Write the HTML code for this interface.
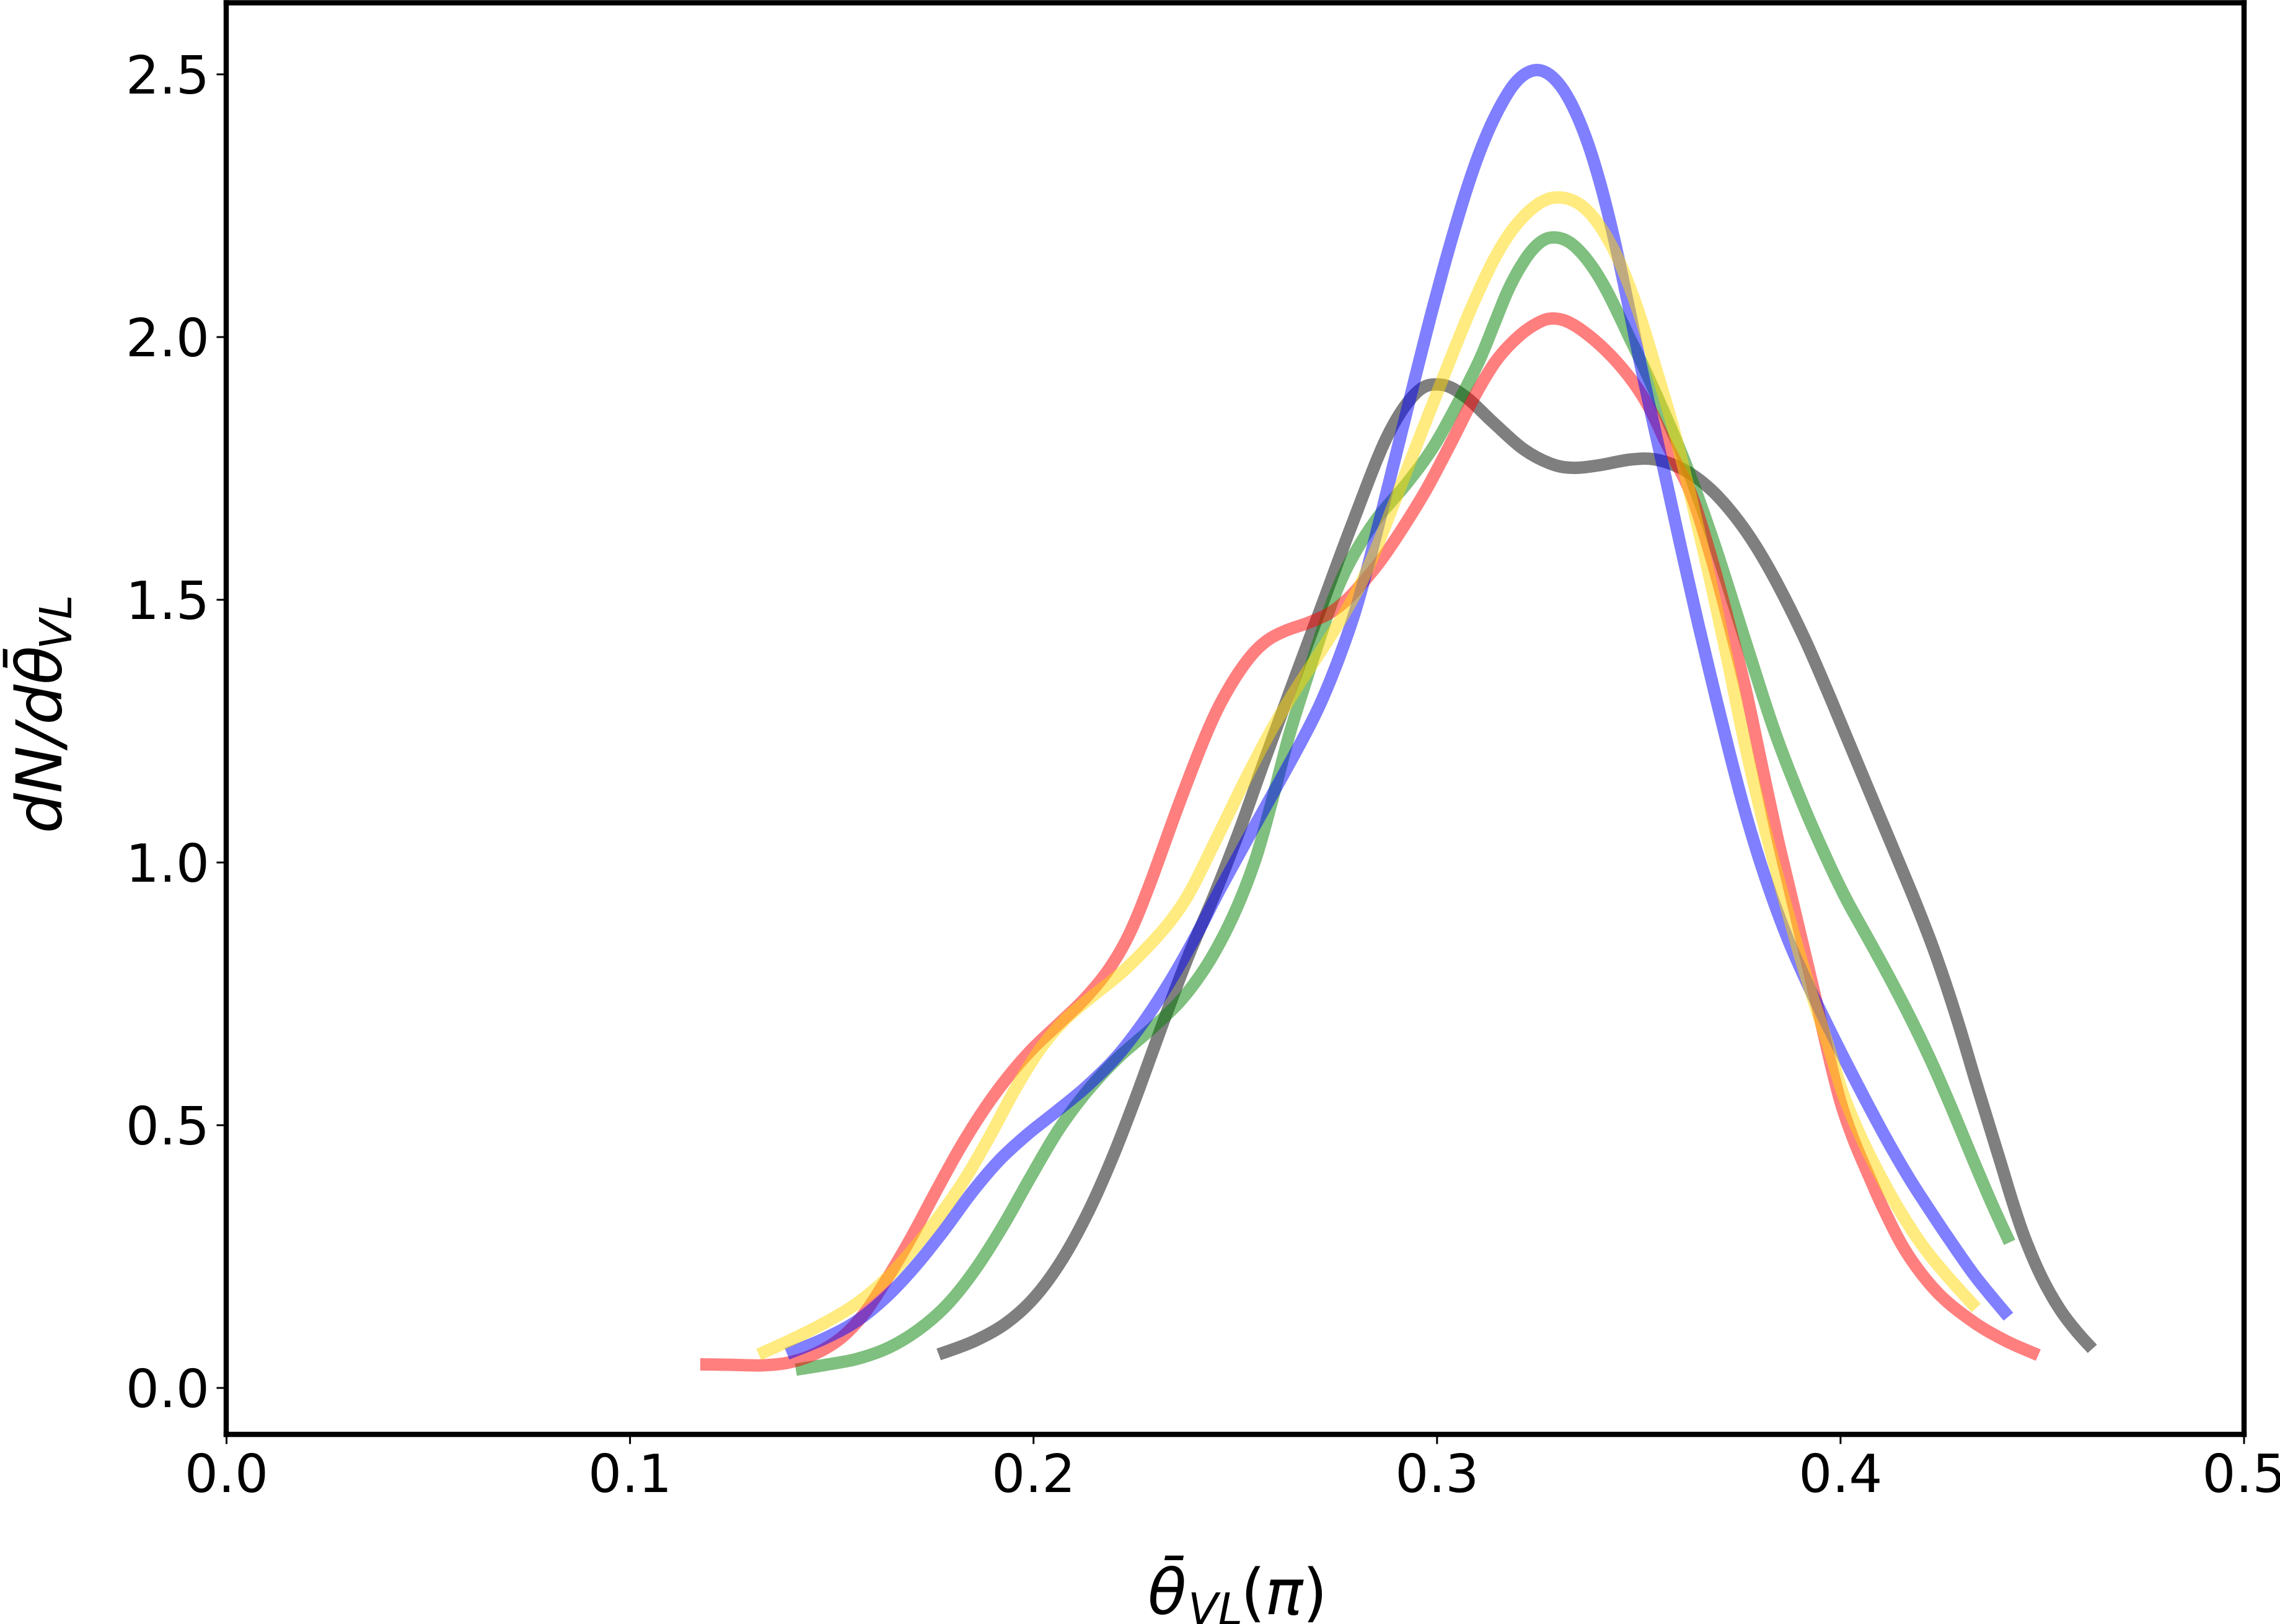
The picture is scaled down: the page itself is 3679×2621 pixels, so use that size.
<!DOCTYPE html>
<html>
<head>
<meta charset="utf-8">
<style>
html,body{margin:0;padding:0;background:#fff;width:3679px;height:2621px;overflow:hidden}
svg{display:block}
text{font-family:"DejaVu Sans","Liberation Sans",sans-serif;fill:#000}
.it{font-style:italic}
</style>
</head>
<body>
<svg id="chart" xmlns="http://www.w3.org/2000/svg" width="3679" height="2621" viewBox="0 0 3679 2621">
<rect x="0" y="0" width="3679" height="2621" fill="#fff"/>
<g id="lines"></g>
<g id="axes"></g>
<g>
<text class="it" x="1852" y="2605" font-size="102">θ̄</text>
<text class="it" x="1917" y="2622" font-size="71">VL</text>
<text x="2002" y="2605" font-size="102">(</text>
<text class="it" x="2041" y="2605" font-size="102">π</text>
<text x="2102" y="2605" font-size="102">)</text>
</g>
<g transform="translate(99,1345) rotate(-90)">
<text class="it" x="0" y="0" font-size="102">dN/dθ̄</text>
<text class="it" x="297" y="16" font-size="71">VL</text>
</g>
</svg>
<script>
const xTickValues = [0, 0.1, 0.2, 0.3, 0.4, 0.5];
const xTickLabels = ['0.0', '0.1', '0.2', '0.3', '0.4', '0.5'];
const yTickValues = [0, 0.5, 1, 1.5, 2, 2.5];
const yTickLabels = ['0.0', '0.5', '1.0', '1.5', '2.0', '2.5'];

const blackX = [.1765,.1856,.1934,.2004,.2071,.2140,.2199,.2257,.2326,.2384,.2447,.2515,.2564,.2650,.2710,.2782,.2882,.2951,.3010,.3068,.3137,.3215,.3284,.3334,.3392,.3490,.3539,.3619,.3678,.3737,.3790,.3844,.3914,.3966,.4020,.4097,.4183,.4226,.4261,.4297,.4333,.4369,.4400,.4426,.4453,.4498,.4545,.4584,.4624];
const blackY = [.0637,.0873,.1203,.1686,.2394,.3373,.4422,.5578,.7064,.8278,.9316,1.0672,1.1792,1.3561,1.4800,1.6274,1.8384,1.9057,1.9163,1.8927,1.8384,1.7807,1.7559,1.7488,1.7535,1.7700,1.7712,1.7488,1.7134,1.6627,1.6050,1.5318,1.4245,1.3290,1.2300,1.0873,.9316,.8467,.7689,.6840,.5861,.4988,.4210,.3538,.2889,.2064,.1450,.1073,.0743];

const greenX = [.1411,.1484,.1563,.1641,.1719,.1787,.1856,.1925,.1993,.2062,.2130,.2209,.2288,.2366,.2424,.2474,.2515,.2555,.2590,.2632,.2676,.2715,.2744,.2782,.2844,.2931,.2990,.3059,.3109,.3143,.3175,.3206,.3237,.3268,.3297,.3327,.3358,.3389,.3420,.3452,.3475,.3504,.3549,.3619,.3684,.3767,.3837,.3908,.3985,.4012,.4062,.4118,.4174,.4226,.4277,.4327,.4379,.4419];
const greenY = [.0347,.0442,.0531,.0731,.1108,.1545,.2229,.3066,.4021,.4965,.5637,.6321,.6792,.7335,.7948,.8620,.9316,1.0118,1.1108,1.2465,1.3455,1.4410,1.5083,1.5720,1.6557,1.7229,1.7842,1.8856,1.9575,2.0283,2.0908,2.1344,2.1698,2.1899,2.1910,2.1840,2.1616,2.1309,2.0908,2.0401,2.0012,1.9575,1.8809,1.7583,1.6179,1.4151,1.2406,1.1050,.9741,.9316,.8644,.7866,.7040,.6215,.5307,.4363,.3420,.2771];

const redX = [.1174,.1249,.1328,.1395,.1464,.1532,.1581,.1641,.1699,.1758,.1816,.1876,.1934,.1993,.2062,.2130,.2189,.2239,.2278,.2361,.2414,.2452,.2484,.2517,.2549,.2584,.2619,.2685,.2732,.2773,.2814,.2861,.2917,.2971,.3039,.3099,.3146,.3206,.3255,.3284,.3323,.3372,.3432,.3490,.3529,.3567,.3590,.3632,.3684,.3744,.3762,.3802,.3841,.3880,.3908,.3936,.3974,.4000,.4031,.4072,.4105,.4161,.4238,.4333,.4410,.4490];
const redY = [.0448,.0448,.0413,.0460,.0637,.0967,.1380,.2123,.2866,.3750,.4564,.5307,.5908,.6450,.6922,.7406,.7948,.8620,.9340,1.1156,1.2193,1.2889,1.3325,1.3726,1.4045,1.4269,1.4410,1.4564,1.4717,1.4953,1.5307,1.5720,1.6392,1.7028,1.8042,1.8986,1.9599,2.0071,2.0307,2.0377,2.0330,2.0071,1.9670,1.9127,1.8656,1.7983,1.7630,1.7087,1.5731,1.3927,1.3443,1.1958,1.0507,.9316,.8373,.7512,.6191,.5389,.4717,.4009,.3420,.2535,.1757,.1215,.0873,.0625];

const blueX = [.1389,.1484,.1563,.1641,.1709,.1778,.1847,.1914,.1984,.2053,.2130,.2209,.2277,.2346,.2414,.2449,.2492,.2538,.2615,.2679,.2708,.2738,.2767,.2796,.2824,.2847,.2873,.2902,.2931,.2957,.2985,.3014,.3043,.3074,.3102,.3132,.3163,.3191,.3221,.3252,.3283,.3314,.3344,.3375,.3404,.3429,.3452,.3478,.3501,.3532,.3561,.3602,.3648,.3685,.3727,.3767,.3814,.3867,.3920,.3969,.4020,.4071,.4123,.4174,.4218,.4257,.4333,.4416];
const blueY = [.0649,.0932,.1238,.1745,.2323,.2972,.3750,.4351,.4835,.5236,.5708,.6285,.6993,.7807,.8750,.9316,.9906,1.0566,1.1604,1.2512,1.2960,1.3502,1.4092,1.4717,1.5495,1.6179,1.6981,1.7877,1.8774,1.9575,2.0436,2.1262,2.2052,2.2842,2.3467,2.4033,2.4493,2.4847,2.5047,2.5118,2.5000,2.4729,2.4292,2.3703,2.2960,2.2205,2.1427,2.0483,1.9575,1.8479,1.7535,1.6061,1.4505,1.3325,1.2005,1.0825,.9670,.8538,.7653,.6875,.6097,.5342,.4599,.3927,.3420,.2972,.2087,.1356];

const goldX = [.1319,.1406,.1484,.1563,.1641,.1709,.1778,.1836,.1896,.1954,.2013,.2071,.2140,.2219,.2288,.2346,.2383,.2455,.2526,.2590,.2655,.2715,.2767,.2811,.2844,.2902,.2960,.3010,.3033,.3083,.3143,.3178,.3212,.3245,.3278,.3298,.3329,.3358,.3389,.3417,.3450,.3478,.3509,.3535,.3590,.3625,.3678,.3719,.3761,.3808,.3856,.3897,.3931,.3951,.3977,.4003,.4045,.4075,.4141,.4200,.4257,.4336];
const goldY = [.0637,.0932,.1238,.1580,.2087,.2700,.3373,.4021,.4835,.5708,.6450,.6993,.7429,.7877,.8420,.8939,.9316,1.0483,1.1604,1.2559,1.3373,1.4045,1.4682,1.5271,1.5861,1.7005,1.8160,1.9127,1.9575,2.0554,2.1545,2.1969,2.2288,2.2524,2.2653,2.2665,2.2642,2.2524,2.2288,2.1969,2.1498,2.0955,2.0283,1.9575,1.8208,1.7087,1.5366,1.3927,1.2264,1.0731,.9422,.8255,.7429,.6958,.6368,.5578,.4870,.4363,.3420,.2712,.2182,.1521];

const SVGNS = 'http://www.w3.org/2000/svg';
const fmt = n => n.toFixed(2);
function xScale(v) { return 365.5 + 6511 * v; }
function yScale(v) { return 2240 - 848 * v; }

function smoothPath(xs, ys) {
  const raw = xs.map((x, i) => [xScale(x), yScale(ys[i])]);
  const p = raw.map((q, i) => {
    if (i === 0 || i === raw.length - 1) return q;
    return [0.2 * raw[i - 1][0] + 0.6 * q[0] + 0.2 * raw[i + 1][0],
            0.2 * raw[i - 1][1] + 0.6 * q[1] + 0.2 * raw[i + 1][1]];
  });
  let d = 'M' + fmt(p[0][0]) + ' ' + fmt(p[0][1]);
  for (let i = 0; i < p.length - 1; i++) {
    const a = p[Math.max(i - 1, 0)], b = p[i], c = p[i + 1], e = p[Math.min(i + 2, p.length - 1)];
    const c1x = b[0] + (c[0] - a[0]) / 6, c1y = b[1] + (c[1] - a[1]) / 6;
    const c2x = c[0] - (e[0] - b[0]) / 6, c2y = c[1] - (e[1] - b[1]) / 6;
    d += 'C' + fmt(c1x) + ' ' + fmt(c1y) + ' ' + fmt(c2x) + ' ' + fmt(c2y) + ' ' + fmt(c[0]) + ' ' + fmt(c[1]);
  }
  return d;
}

const lines = document.getElementById('lines');
function drawCurve(xs, ys, color, name) {
  const el = document.createElementNS(SVGNS, 'path');
  
  
  el.setAttribute('d', smoothPath(xs, ys));
  el.setAttribute('fill', 'none');
  el.setAttribute('stroke', color);
  el.setAttribute('stroke-opacity', '0.5');
  el.setAttribute('stroke-width', '20');
  el.setAttribute('stroke-linecap', 'butt');
  el.setAttribute('stroke-linejoin', 'round');
  lines.appendChild(el);
}
drawCurve(blackX, blackY, '#000000', 'curve-black');
drawCurve(greenX, greenY, '#008000', 'curve-green');
drawCurve(redX, redY, '#ff0000', 'curve-red');
drawCurve(blueX, blueY, '#0000ff', 'curve-blue');
drawCurve(goldX, goldY, '#ffd700', 'curve-gold');

const axes = document.getElementById('axes');
function line(x1, y1, x2, y2, w, name) {
  const el = document.createElementNS(SVGNS, 'line');
  
  
  el.setAttribute('x1', x1);
  el.setAttribute('y1', y1);
  el.setAttribute('x2', x2);
  el.setAttribute('y2', y2);
  el.setAttribute('stroke', '#000');
  el.setAttribute('stroke-width', w);
  el.setAttribute('stroke-linecap', 'square');
  axes.appendChild(el);
}
function label(x, y, anchor, str, name) {
  const el = document.createElementNS(SVGNS, 'text');
  
  
  el.setAttribute('x', x);
  el.setAttribute('y', y);
  el.setAttribute('text-anchor', anchor);
  el.setAttribute('font-size', '85');
  el.textContent = str;
  axes.appendChild(el);
}
const L = 365, R = 3621, T = 4.5, B = 2315;
xTickValues.forEach((v, i) => {
  const x = xScale(v);
  line(x, B, x, B + 14, 3, 'x-tick-' + xTickLabels[i]);
  label(x, 2408, 'middle', xTickLabels[i], 'x-tick-label-' + xTickLabels[i]);
});
yTickValues.forEach((v, i) => {
  const y = yScale(v);
  line(L - 14, y, L, y, 3, 'y-tick-' + yTickLabels[i]);
  label(338, y + 31, 'end', yTickLabels[i], 'y-tick-label-' + yTickLabels[i]);
});
line(L, T, L, B, 8.4, 'spine-left');
line(R, T, R, B, 8.4, 'spine-right');
line(L, T, R, T, 8.4, 'spine-top');
line(L, B, R, B, 8.4, 'spine-bottom');
</script>
</body>
</html>
